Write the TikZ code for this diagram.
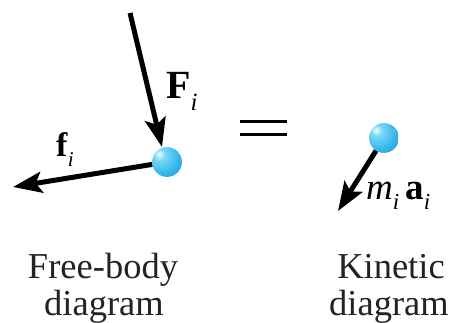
\documentclass[tikz,border=0pt]{standalone}
\usepackage{fontspec}
\setmainfont{Liberation Serif}
\usetikzlibrary{arrows.meta}
\definecolor{ballhi}{RGB}{235,250,255}
\definecolor{ballmid}{RGB}{120,215,245}
\definecolor{ballblue}{RGB}{50,180,235}
\definecolor{balledge}{RGB}{25,130,205}
\definecolor{captiongray}{RGB}{35,35,35}
\pgfdeclareradialshading{particleshade}{\pgfpoint{-14bp}{14bp}}{%
  color(0bp)=(ballhi); color(10bp)=(ballmid); color(30bp)=(ballblue);
  color(58bp)=(balledge); color(100bp)=(balledge)}
\newcommand\subi{\raisebox{-0.28em}{\scalebox{0.62}{\itshape i}}}
\tikzset{
  particle/.style={circle, minimum size=29.5pt, inner sep=0pt, shading=particleshade},
  force/.style={line width=5pt, -{Stealth[length=29pt,width=21pt,inset=6pt]}},
  lbl/.style={inner sep=0pt, anchor=base west},
  caption/.style={inner sep=0pt, align=center, text=captiongray, font=\fontsize{36.5}{37}\selectfont}
}
\begin{document}
\begin{tikzpicture}[x=1pt,y=-1pt]
\useasboundingbox (0,0) rectangle (454,323);
\fill[white] (0,0) rectangle (454,323);
% free-body diagram
\node[particle] (ballA) at (167,162) {};
\coordinate (Fstart) at (130,13);
\coordinate (Ftip) at (162,147);
\coordinate (ftip) at (13,187);
\draw[force] (Fstart) -- (Ftip);
\draw[force] (ballA) -- (ftip);
\node[particle] at (ballA) {};
\node[lbl, font=\fontsize{40}{40}\selectfont] (Flbl) at (166,99) {\textbf{F}\subi};
\node[lbl, font=\fontsize{34}{34}\selectfont] (flbl) at (56,157) {\textbf{f}\subi};
% equals sign
\coordinate (e1) at (240,122); \coordinate (e2) at (287,122);
\coordinate (e3) at (240,135); \coordinate (e4) at (287,135);
\draw[line width=3pt] (e1) -- (e2);
\draw[line width=3pt] (e3) -- (e4);
% kinetic diagram
\node[particle] (ballB) at (384,138) {};
\coordinate (atip) at (338,211);
\draw[force] (ballB) -- (atip);
\node[particle] at (ballB) {};
\node[lbl, font=\fontsize{37}{37}\selectfont] (malbl) at (366,199) {\textit{m}\subi\,\textbf{a}\subi};
% captions
\node[caption, anchor=base] (capA) at (103,278) {Free-body};
\node[caption, anchor=base] (capA2) at (104,315) {diagram};
\node[caption, anchor=base] (capB) at (391,278) {Kinetic};
\node[caption, anchor=base] (capB2) at (389,315) {diagram};
\end{tikzpicture}
\end{document}
